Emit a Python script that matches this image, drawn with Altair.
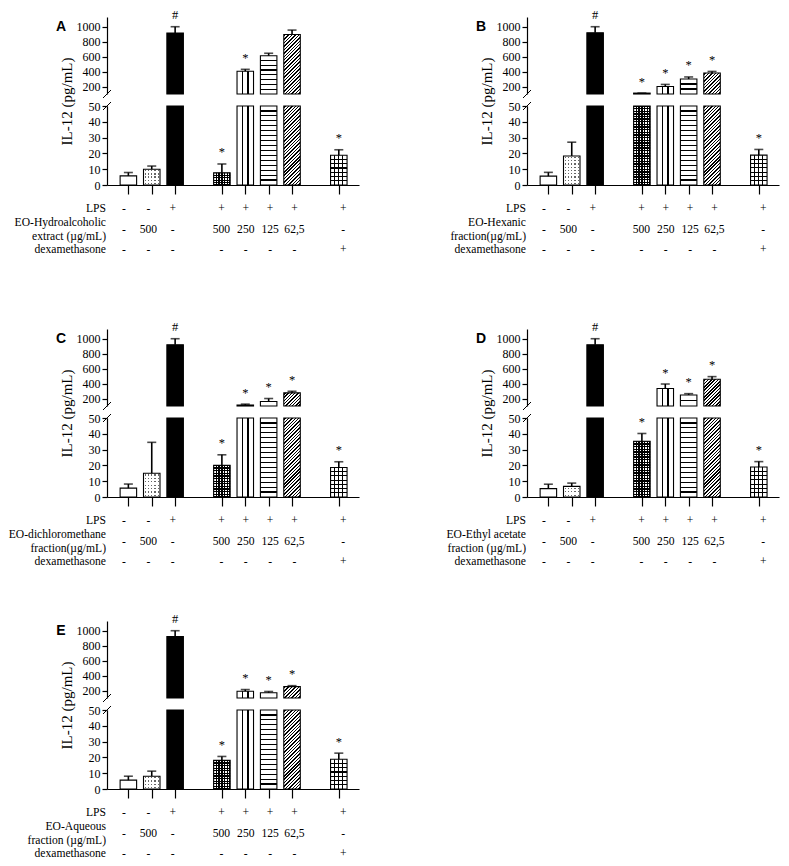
import math
import altair as alt
import pandas as pd

# ---------------- data ----------------
positions = [0, 1, 2, 4, 5, 6, 7, 9]
patterns = ["white", "dots", "black", "checker", "vlines", "hlines", "diag", "grid"]
lps_signs = ["-", "-", "+", "+", "+", "+", "+", "+"]
eo_doses = ["-", "500", "-", "500", "250", "125", "62,5", "-"]
dexa_signs = ["-", "-", "-", "-", "-", "-", "-", "+"]

panel_letters = ["A", "B", "C", "D", "E"]
eo_labels = [
    "EO-Hydroalcoholic|extract (µg/mL)",
    "EO-Hexanic|fraction(µg/mL)",
    "EO-dichloromethane|fraction(µg/mL)",
    "EO-Ethyl acetate|fraction (µg/mL)",
    "EO-Aqueous|fraction (µg/mL)",
]

A_mean = [5.8, 10.0, 915, 7.7, 405, 612, 895, 18.8]
A_err = [2.1, 2.0, 85, 5.6, 25, 33, 60, 3.5]
A_sig = ["", "", "#", "*", "*", "", "", "*"]

B_mean = [5.6, 18.4, 918, 112, 200, 300, 380, 18.9]
B_err = [2.4, 8.7, 82, 0, 28, 28, 22, 3.6]
B_sig = ["", "", "#", "*", "*", "*", "*", "*"]

C_mean = [5.6, 15.0, 918, 20.0, 113, 160, 275, 18.7]
C_err = [2.6, 19.6, 82, 6.7, 12, 40, 22, 3.6]
C_sig = ["", "", "#", "*", "*", "*", "*", "*"]

D_mean = [5.3, 6.7, 920, 35.3, 334, 248, 458, 19.0]
D_err = [2.8, 2.1, 80, 4.9, 60, 17, 35, 3.4]
D_sig = ["", "", "#", "*", "*", "*", "*", "*"]

E_mean = [5.6, 8.1, 922, 18.1, 191, 170, 252, 18.8]
E_err = [2.5, 3.2, 78, 2.5, 22, 17, 13, 3.9]
E_sig = ["", "", "#", "*", "*", "*", "*", "*"]

top_ticks = [200, 400, 600, 800, 1000]
bottom_ticks = [0, 10, 20, 30, 40, 50]

# ---------------- layout / style ----------------
W = 252
HT = 77          # upper (broken) segment height
HB = 79          # lower segment height
GAP = 12         # row spacing of the grid
TAB_RANGE = [12, 53]
TAB_H1 = 120     # table height of first panel row (includes gap to next panel)
TAB_H2 = 100
TAB_H3 = 58
COL_GAP = 168
BAR = 16.5
TOP_DOM = [100, 1130]
BOT_DOM = [0, 50]
X_DOM = [-0.7, 9.65]
SERIF = "Liberation Serif"
CLEAR = "rgba(255,255,255,0)"
FS_TAB = 11.6


def stops_for(lines, hw, fg, bg):
    out = [alt.GradientStop(offset=0, color=bg)]
    for p in lines:
        a = round(max(0.0, p - hw), 4)
        b = round(min(1.0, p + hw), 4)
        out += [
            alt.GradientStop(offset=a, color=bg),
            alt.GradientStop(offset=a, color=fg),
            alt.GradientStop(offset=b, color=fg),
            alt.GradientStop(offset=b, color=bg),
        ]
    out.append(alt.GradientStop(offset=1, color=bg))
    return out


def inner_lines(length, spacing):
    n = max(1, round(length / spacing))
    return [k / n for k in range(1, n)]


def centered_lines(length, spacing):
    n = max(1, round(length / spacing))
    return [(k + 0.5) / n for k in range(n)]


def lin(stops, x2, y2):
    return alt.LinearGradient(gradient="linear", stops=stops, x1=0, y1=0, x2=x2, y2=y2)


def fill_layers(pattern, w, h):
    if pattern == "white":
        return ["white"]
    if pattern == "black":
        return ["black"]
    if pattern == "vlines":
        return [lin(stops_for([1 / 3, 2 / 3], 0.6 / w, "black", "white"), 1, 0)]
    if pattern == "hlines":
        return [lin(stops_for(inner_lines(h, 5.0), 0.6 / h, "black", "white"), 0, 1)]
    if pattern == "diag":
        span = (w + h) / math.sqrt(2)
        c = (w + h) / (w * w + h * h)
        return [lin(stops_for(centered_lines(span, 2.4), 0.5 / span, "black", "white"), c * w, c * h)]
    if pattern == "grid":
        return [
            lin(stops_for(inner_lines(w, 4.2), 0.55 / w, "black", "white"), 1, 0),
            lin(stops_for(inner_lines(h, 4.5), 0.55 / h, "black", CLEAR), 0, 1),
        ]
    if pattern == "dots":
        return [
            lin(stops_for(centered_lines(w, 3.4), 0.6 / w, "#666666", "white"), 1, 0),
            lin(stops_for(centered_lines(h, 3.4), 0.6 / h, CLEAR, "white"), 0, 1),
        ]
    if pattern == "checker":
        return [
            lin(stops_for(centered_lines(w, 2.6), 0.65 / w, "white", "black"), 1, 0),
            lin(stops_for(centered_lines(h, 2.6), 0.65 / h, CLEAR, "black"), 0, 1),
        ]
    return ["white"]


def bar_mark(f, last):
    if last:
        return dict(size=BAR, fill=f, stroke="black", strokeWidth=1.1)
    return dict(size=BAR, fill=f, strokeWidth=0)


def y_axis(values, title=None):
    kw = dict(
        values=values, format="d", grid=False, tickSize=5, labelPadding=2,
        labelFont=SERIF, labelFontSize=12, labelColor="black",
        labelOverlap=False, labelFlush=False, tickCount=len(values),
        tickColor="black", domainColor="black", tickWidth=1.2, domainWidth=1.2,
    )
    if title is not None:
        kw.update(
            title=title, titleX=-41, titleY=(HT + GAP + HB) / 2, titleAngle=270,
            titleAlign="center", titleBaseline="middle", titleFont=SERIF,
            titleFontSize=15, titleFontWeight="normal", titleColor="black",
        )
    else:
        kw.update(title=None)
    return alt.Axis(**kw)


def make_panel(letter, eo_label, means, errs, sigs, tab_h):
    df = pd.DataFrame({
        "i": list(range(8)), "pos": positions, "pattern": patterns,
        "mean": means, "err": errs, "sig": sigs,
    })
    df["top"] = df["mean"] + df["err"]
    df["vb"] = df["mean"].clip(upper=BOT_DOM[1])

    xsc = alt.Scale(domain=X_DOM, nice=False, zero=False)
    x_none = alt.X("pos:Q", scale=xsc, axis=None)
    xax = alt.Axis(values=positions, labels=False, title=None, grid=False, tickSize=9,
                   tickColor="black", domainColor="black", tickWidth=1.2, domainWidth=1.2)
    x_axis = alt.X("pos:Q", scale=xsc, axis=xax)
    ysc_t = alt.Scale(domain=TOP_DOM, nice=False, zero=False)
    ysc_b = alt.Scale(domain=BOT_DOM, nice=False, zero=True)
    yax_t = y_axis(top_ticks, "IL-12 (pg/mL)")
    yax_b = y_axis(bottom_ticks)
    one = alt.Chart(df).transform_filter(alt.datum.i == 0)

    # ---- upper segment ----
    tl = []
    et = alt.Chart(df).transform_filter(f"datum.mean > {TOP_DOM[0]}")
    for i, pat in enumerate(patterns):
        v = means[i]
        if v <= TOP_DOM[0]:
            continue
        h = max(0.5, (v - TOP_DOM[0]) / (TOP_DOM[1] - TOP_DOM[0]) * HT)
        fl = fill_layers(pat, BAR, h)
        for j, f in enumerate(fl):
            tl.append(
                alt.Chart(df).transform_filter(alt.datum.i == i)
                .mark_bar(**bar_mark(f, j == len(fl) - 1))
                .encode(x=x_none, y=alt.Y("mean:Q", scale=ysc_t, axis=yax_t), y2=alt.datum(TOP_DOM[0]))
            )
    tl.append(et.mark_rule(color="black", strokeWidth=1.6).encode(
        x=x_none, y=alt.Y("mean:Q", scale=ysc_t, axis=yax_t), y2="top:Q"))
    tl.append(et.mark_tick(orient="horizontal", size=9, thickness=1.6, color="black").encode(
        x=x_none, y=alt.Y("top:Q", scale=ysc_t, axis=yax_t)))
    tl.append(et.transform_filter("datum.sig != ''").mark_text(
        font=SERIF, fontSize=12.5, baseline="alphabetic", dy=-7.5, color="black").encode(
        x=x_none, y=alt.Y("top:Q", scale=ysc_t, axis=yax_t), text="sig:N"))
    tl.append(one.mark_rule(color="black", strokeWidth=1).encode(
        x=alt.value(-4), x2=alt.value(4), y=alt.value(HT + 4), y2=alt.value(HT - 4)))
    tl.append(one.mark_text(font="Liberation Sans", fontWeight="bold", fontSize=14,
                            baseline="middle", align="center", color="black").encode(
        x=alt.value(-46), y=alt.Y(datum=1000, scale=ysc_t, axis=yax_t), text=alt.value(letter)))
    top = alt.layer(*tl).properties(width=W, height=HT)

    # ---- lower segment ----
    bl = []
    eb = alt.Chart(df).transform_filter(f"datum.mean < {BOT_DOM[1]}")
    for i, pat in enumerate(patterns):
        v = means[i]
        h = max(0.5, min(v, BOT_DOM[1]) / BOT_DOM[1] * HB)
        fl = fill_layers(pat, BAR, h)
        for j, f in enumerate(fl):
            bl.append(
                alt.Chart(df).transform_filter(alt.datum.i == i)
                .mark_bar(**bar_mark(f, j == len(fl) - 1))
                .encode(x=x_axis, y=alt.Y("vb:Q", scale=ysc_b, axis=yax_b), y2=alt.datum(0))
            )
    bl.append(eb.mark_rule(color="black", strokeWidth=1.6).encode(
        x=x_axis, y=alt.Y("mean:Q", scale=ysc_b, axis=yax_b), y2="top:Q"))
    bl.append(eb.mark_tick(orient="horizontal", size=9, thickness=1.6, color="black").encode(
        x=x_axis, y=alt.Y("top:Q", scale=ysc_b, axis=yax_b)))
    bl.append(eb.transform_filter("datum.sig != ''").mark_text(
        font=SERIF, fontSize=12.5, baseline="alphabetic", dy=-7.5, color="black").encode(
        x=x_axis, y=alt.Y("top:Q", scale=ysc_b, axis=yax_b), text="sig:N"))
    bl.append(one.mark_rule(color="black", strokeWidth=1).encode(
        x=alt.value(-4), x2=alt.value(4), y=alt.value(4), y2=alt.value(-4)))
    bottom = alt.layer(*bl).properties(width=W, height=HB)

    # ---- treatment table ----
    rows = ["LPS", eo_label, "dexamethasone"]
    recs = []
    for k in range(8):
        recs.append({"pos": positions[k], "row": rows[0], "txt": lps_signs[k]})
        recs.append({"pos": positions[k], "row": rows[1], "txt": eo_doses[k]})
        recs.append({"pos": positions[k], "row": rows[2], "txt": dexa_signs[k]})
    tdf = pd.DataFrame(recs)
    ldf = pd.DataFrame({"row": rows, "multi": [False, True, False]})
    yrow = alt.Y("row:N", sort=rows, scale=alt.Scale(type="point", padding=0, range=TAB_RANGE), axis=None)
    vals = alt.Chart(tdf).mark_text(font=SERIF, fontSize=FS_TAB, color="black", baseline="middle").encode(
        x=x_none, y=yrow, text="txt:N")
    lab1 = alt.Chart(ldf).transform_filter("!datum.multi").mark_text(
        font=SERIF, fontSize=FS_TAB, color="black", baseline="middle", align="right").encode(
        x=alt.value(-1), y=yrow, text="row:N")
    lab2 = alt.Chart(ldf).transform_filter("datum.multi").mark_text(
        font=SERIF, fontSize=FS_TAB, color="black", baseline="middle", align="right",
        lineBreak="|", lineHeight=14, dy=-7).encode(
        x=alt.value(-1), y=yrow, text="row:N")
    table = alt.layer(vals, lab1, lab2).properties(width=W, height=tab_h)

    return top, bottom, table


def blank(h):
    d = pd.DataFrame({"a": [0]})
    return alt.Chart(d).mark_point(opacity=0).encode(
        x=alt.X("a:Q", axis=None), y=alt.Y("a:Q", axis=None)
    ).properties(width=W, height=h)


tA, bA, sA = make_panel(panel_letters[0], eo_labels[0], A_mean, A_err, A_sig, TAB_H1)
tB, bB, sB = make_panel(panel_letters[1], eo_labels[1], B_mean, B_err, B_sig, TAB_H1)
tC, bC, sC = make_panel(panel_letters[2], eo_labels[2], C_mean, C_err, C_sig, TAB_H2)
tD, bD, sD = make_panel(panel_letters[3], eo_labels[3], D_mean, D_err, D_sig, TAB_H2)
tE, bE, sE = make_panel(panel_letters[4], eo_labels[4], E_mean, E_err, E_sig, TAB_H3)

cells = [
    tA, tB,
    bA, bB,
    sA, sB,
    tC, tD,
    bC, bD,
    sC, sD,
    tE, blank(10),
    bE, blank(10),
    sE,
]

chart = (
    alt.concat(*cells, columns=2, spacing={"row": GAP, "column": COL_GAP}, bounds="flush")
    .properties(padding=0)
    .configure_view(stroke="transparent")
    .configure_axis(labelOverlap=False, labelFlush=False)
)

chart.save("out.html", embed_options={"renderer": "svg", "actions": False})
